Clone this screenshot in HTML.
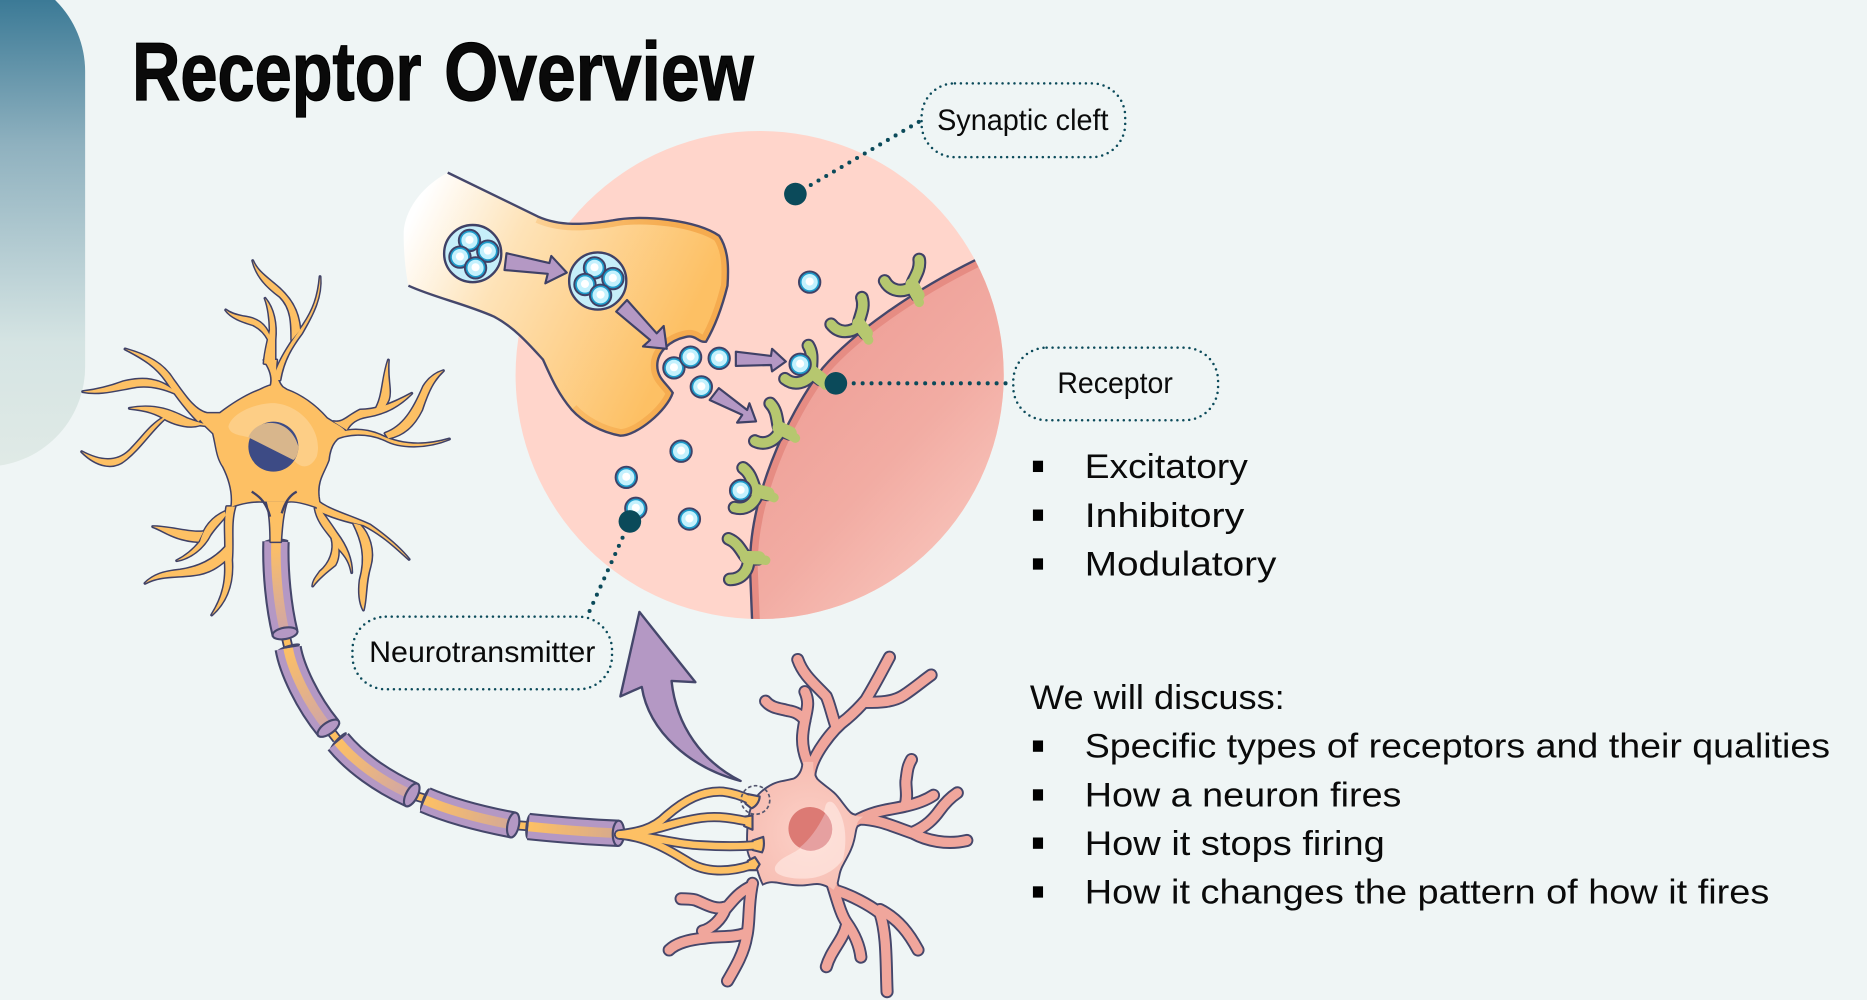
<!DOCTYPE html>
<html><head><meta charset="utf-8"><title>Receptor Overview</title>
<style>html,body{margin:0;padding:0;background:#eff5f5;overflow:hidden}svg{display:block}
text{font-family:"Liberation Sans",sans-serif;fill:#0a0a0a}</style></head>
<body>
<svg xmlns="http://www.w3.org/2000/svg" width="1867" height="1000" viewBox="0 0 1568 840" preserveAspectRatio="none">
<defs>
<linearGradient id="pan" x1="0" y1="0" x2="0" y2="1"><stop offset="0" stop-color="#2b6f8e"/><stop offset=".35" stop-color="#8fb1bf"/><stop offset=".75" stop-color="#d5e4e3"/><stop offset="1" stop-color="#e0eae6"/></linearGradient>
<linearGradient id="term" gradientUnits="userSpaceOnUse" x1="350" y1="175" x2="570" y2="285"><stop offset="0" stop-color="#fff"/><stop offset=".35" stop-color="#fee3b8"/><stop offset="1" stop-color="#fdc064"/></linearGradient>
<linearGradient id="band" gradientUnits="userSpaceOnUse" x1="400" y1="0" x2="570" y2="0"><stop offset="0" stop-color="#f5ab4f" stop-opacity="0"/><stop offset="1" stop-color="#f5ab4f"/></linearGradient>
<linearGradient id="post" gradientUnits="userSpaceOnUse" x1="670" y1="340" x2="800" y2="460"><stop offset="0" stop-color="#efa29a"/><stop offset=".5" stop-color="#f2aca3"/><stop offset="1" stop-color="#f7c0b7"/></linearGradient>
<radialGradient id="pbody" gradientUnits="userSpaceOnUse" cx="680" cy="700" r="55"><stop offset="0" stop-color="#fcd0c7"/><stop offset="1" stop-color="#f7bfb4"/></radialGradient>
<linearGradient id="s1" gradientUnits="userSpaceOnUse" x1="232" y1="455" x2="239" y2="532"><stop offset="0" stop-color="#fdc064"/><stop offset="1" stop-color="#cfa5a8"/></linearGradient>
<linearGradient id="s2" gradientUnits="userSpaceOnUse" x1="242" y1="544" x2="276" y2="612"><stop offset="0" stop-color="#fdc064"/><stop offset="1" stop-color="#cfa5a8"/></linearGradient>
<linearGradient id="s3" gradientUnits="userSpaceOnUse" x1="284" y1="623" x2="346" y2="668"><stop offset="0" stop-color="#fdc064"/><stop offset="1" stop-color="#cfa5a8"/></linearGradient>
<linearGradient id="s4" gradientUnits="userSpaceOnUse" x1="357" y1="672" x2="431" y2="693"><stop offset="0" stop-color="#fdc064"/><stop offset="1" stop-color="#d3a898"/></linearGradient>
<linearGradient id="s5" gradientUnits="userSpaceOnUse" x1="444" y1="694" x2="519" y2="700"><stop offset="0" stop-color="#fdc064"/><stop offset="1" stop-color="#d6a98e"/></linearGradient>
<clipPath id="cc"><circle cx="638" cy="315" r="205"/></clipPath>
<clipPath id="pc"><path d="M820,218 C765,245 716,280 691,309 C660,350 628,420 630,480 L632,530 L860,530 L860,200Z"/></clipPath>
<clipPath id="tc"><path d="M376,145 L452,182 C470,190 490,189 515,185 C540,180 585,185 604,198 C612,210 612,225 611,240 C606,260 600,275 593,287 C586,288 585,281 576,283 C562,286 552,296 552,307 C552,318 560,322 565,330 C560,345 535,366 521,366 C505,363 490,355 480,344 C468,330 462,315 456,302 C445,290 432,275 415,266 C390,255 365,250 343,240 C340,225 339,210 339,195 C340,178 352,158 376,145Z"/></clipPath>
<g id="v"><circle r="9" fill="#1f9ccb" stroke="#3f4166" stroke-width="1.6"/><circle r="6.8" fill="#c4f1fd"/><circle cy="-.5" r="3.4" fill="#fff"/></g>
<g id="rc" fill="none" stroke-linecap="round">
<path d="M-2,-6 C-4,-10 -8,-12 -5,-18 C-2,-24 1,-29 0,-36 M-6,-13 C-14,-8 -24,-9 -29,-18" stroke="#3f4166" stroke-width="11.5"/>
<path d="M0,0 C-2,-6 -8,-11 -5,-18 C-2,-24 1,-29 0,-36 M-6,-13 C-14,-8 -24,-9 -29,-18" stroke="#b6c76f" stroke-width="8"/>
<path d="M-1,-6 L-6,-15" stroke="#b6c76f" stroke-width="11"/>
</g>
<g id="cl"><circle r="24" fill="#c6eef9" stroke="#3f4166" stroke-width="2"/>
<use href="#v" x="-2.7" y="-11"/><use href="#v" x="12.7" y="-2"/><use href="#v" x="-10.7" y="3"/><use href="#v" x="2.4" y="12"/></g>
<g id="parts">
<path d="M600,450 C640,430 650,430 680,450 C720,465 760,490 800,535 C830,555 850,560 860,580 C830,590 810,610 805,660 C790,700 770,720 775,770 L780,805 C740,790 700,780 680,785 L620,785 C580,780 540,790 515,800 C520,760 510,720 490,680 C470,650 470,620 460,580 C440,560 420,545 410,520 L480,520 C520,490 560,465 600,450Z"/>
<path d="M625,455 C640,430 640,400 612,360 L650,360 C645,400 650,430 680,455Z"/>
<path d="M640,420 C650,370 690,310 730,255 C760,210 775,170 780,110 C785,170 760,220 725,280 C695,320 670,360 660,420Z"/>
<path d="M695,300 L720,270 C715,210 690,170 640,130 C610,105 590,90 578,62 C590,110 620,140 660,170 C695,205 695,250 695,300Z"/>
<path d="M612,370 C615,330 625,300 630,270 C630,240 625,200 615,175 C640,205 650,250 645,300 C645,330 645,350 645,375Z"/>
<path d="M630,290 C615,250 590,235 550,230 C525,225 510,220 497,210 C515,235 550,245 580,255 C600,265 615,280 625,300Z"/>
<path d="M440,520 C400,510 370,460 340,420 C310,370 260,345 195,327 C250,355 290,380 320,425 C350,470 380,510 415,545Z"/>
<path d="M345,455 C300,415 250,410 190,425 C150,440 110,450 68,455 C120,465 170,450 230,440 C270,435 310,445 345,460Z"/>
<path d="M460,560 C430,550 405,545 380,535 C340,515 290,490 208,505 C260,510 290,520 320,540 C350,555 390,565 420,555Z"/>
<path d="M315,530 C270,555 250,590 215,625 C180,665 130,670 65,635 C110,680 160,690 195,660 C240,625 270,575 315,535Z"/>
<path d="M820,545 C850,550 860,530 900,510 C950,510 1000,490 1055,460 C1020,495 980,520 920,530 C890,535 870,550 860,570Z"/>
<path d="M945,510 C970,470 965,420 985,360 C980,420 995,450 985,480 C980,490 975,500 970,505Z"/>
<path d="M810,590 C840,570 900,560 960,585 C1020,615 1090,620 1168,597 C1100,625 1020,625 975,600 C920,575 860,580 820,600Z"/>
<path d="M975,580 C1030,560 1060,510 1090,440 C1105,415 1125,400 1150,392 C1120,420 1105,450 1085,510 C1060,560 1030,585 985,595Z"/>
<path d="M500,800 C490,850 500,900 495,960 C500,1020 490,1070 455,1125 C500,1085 520,1030 515,960 C520,900 510,850 525,800Z"/>
<path d="M495,815 C450,835 430,870 420,905 C400,930 375,950 350,962 C390,955 430,925 450,885 C470,855 490,840 497,825Z"/>
<path d="M430,875 C390,880 330,860 278,860 C310,870 340,900 415,905Z"/>
<path d="M497,920 C470,950 430,980 360,990 C310,995 280,1005 255,1030 C300,1005 350,1012 400,1005 C450,1000 480,975 497,960Z"/>
<path d="M770,780 C800,810 880,830 930,855 C980,890 1020,925 1047,958 C1010,925 970,885 910,855 C860,845 810,830 770,810Z"/>
<path d="M880,850 C905,900 920,950 900,1020 C895,1060 900,1090 910,1110 C920,1070 915,1030 930,980 C945,930 925,880 900,855Z"/>
<path d="M765,805 C775,860 820,890 835,925 C860,950 870,970 875,998 C875,960 860,920 830,880 C810,850 795,830 785,815Z"/>
<path d="M815,895 C825,930 810,970 780,995 C770,1010 760,1020 758,1038 C775,1015 800,995 825,975 C840,950 835,920 830,895Z"/>
<path d="M620,785 C630,820 632,860 632,905 L662,905 C665,860 668,820 680,785Z"/>
</g>
<g id="pd" fill="none" stroke-linecap="round" stroke-linejoin="round">
<path d="M680,652 C681,635 700,612 711,604 C718,598 722,594 727,588 C735,575 740,565 747,552"/>
<path d="M727,590 C738,590 750,590 759,584 C768,578 775,572 782,567"/>
<path d="M678,640 C672,625 674,615 676,605 C678,595 680,590 676,581"/>
<path d="M702,610 C698,598 697,592 694,585 C685,575 675,568 670,554"/>
<path d="M676,605 C672,600 668,598 662,597 C655,595 648,595 643,589"/>
<path d="M718,690 C735,680 750,680 761,677 C770,675 778,672 784,668"/>
<path d="M760,677 C763,668 760,660 761,655 C762,648 762,644 765.5,638"/>
<path d="M722,688 C738,688 752,695 767,700 C778,706 795,710 812,706"/>
<path d="M767,699 C778,694 784,688 789,681 C794,674 798,670 804,666"/>
<path d="M632,742 C628,760 630,775 627,787 C625,800 618,812 611,824"/>
<path d="M626,784 C615,788 603,786 592,788 C580,789 568,792 562,798"/>
<path d="M630,745 C620,750 615,757 609,764 C606,772 598,780 590,782"/>
<path d="M609,762 C600,765 590,758 584,756 C580,755 576,755 572,755"/>
<path d="M698,740 C703,755 706,768 711,775 C718,785 722,795 723,804"/>
<path d="M711,777 C708,790 698,798 694,812"/>
<path d="M702,748 C715,752 730,760 739,767 C745,785 744,810 745,833"/>
<path d="M739,764 C755,772 764,785 771,798"/>
</g>
<path id="pb" d="M674.6,640 C675,648 670,654 666,655 C658,657 654,657 649.4,659.3 C640,664 634,670 631,680 C628,690 628,705 628.4,714 C630,722 634,726 636.8,730.7 C638,735 640,740 641,742 C645,740 648,740 652,740.5 C660,742 666,743 672,743 C680,743 684,741 689,742 C694,743 697,745 700,747.5 C703,743 703,740 704,736 C705,730 707,727 708,725 C713,716 715,712 716.6,705.5 C718,700 718,696 719.4,694 C720,690 722,688 725,686 C720,686 716,685 713.8,683 C708,677 705,671 699.8,666.3 C695,662 690,659 686,655 C684,652 683,650 683,640Z"/>
<g id="bt" fill="none" stroke-linecap="round" stroke-linejoin="round">
<path d="M520,701 C535,699 548,697 560,685 C575,672 590,664 607,665 C615,666 622,668 630,672"/>
<path d="M520,701 C548,700 565,690 589,687 C605,685 618,688 628,690"/>
<path d="M520,701 C548,702 565,709 588,710 C605,711 622,711 635,710"/>
<path d="M520,701 C545,703 565,716 578,724 C592,733 612,733 630,727"/>
</g>
</defs>

<rect width="1568" height="840" fill="#eff5f5"/>
<rect x="-100" y="-24" width="171.5" height="416" rx="84" fill="url(#pan)"/>

<g font-size="69" font-weight="bold" stroke="#000" stroke-width="1">
<text x="111" y="84" textLength="243" lengthAdjust="spacingAndGlyphs">Receptor</text>
<text x="373" y="84" textLength="260" lengthAdjust="spacingAndGlyphs">Overview</text>
</g>

<!-- zoom circle -->
<circle cx="638" cy="315" r="205" fill="#ffd5cb"/>
<g clip-path="url(#cc)">
<g clip-path="url(#pc)">
<rect x="620" y="200" width="240" height="330" fill="url(#post)"/>
<path d="M820,218 C765,245 716,280 691,309 C660,350 628,420 630,480 L632,530" fill="none" stroke="#e68c83" stroke-width="13"/>
</g>
<path d="M820,218 C765,245 716,280 691,309 C660,350 628,420 630,480 L632,530" fill="none" stroke="#45476b" stroke-width="2"/>
</g>

<!-- axon terminal -->
<path d="M376,145 L452,182 C470,190 490,189 515,185 C540,180 585,185 604,198 C612,210 612,225 611,240 C606,260 600,275 593,287 C586,288 585,281 576,283 C562,286 552,296 552,307 C552,318 560,322 565,330 C560,345 535,366 521,366 C505,363 490,355 480,344 C468,330 462,315 456,302 C445,290 432,275 415,266 C390,255 365,250 343,240 C340,225 339,210 339,195 C340,178 352,158 376,145Z" fill="url(#term)"/>
<g clip-path="url(#tc)"><path d="M452,182 C470,190 490,189 515,185 C540,180 585,185 604,198 C612,210 612,225 611,240 C606,260 600,275 593,287 C586,288 585,281 576,283 C562,286 552,296 552,307 C552,318 560,322 565,330 C560,345 535,366 521,366 C505,363 490,355 480,344" fill="none" stroke="url(#band)" stroke-width="11"/></g>
<path d="M376,145 L452,182 C470,190 490,189 515,185 C540,180 585,185 604,198 C612,210 612,225 611,240 C606,260 600,275 593,287 C586,288 585,281 576,283 C562,286 552,296 552,307 C552,318 560,322 565,330 C560,345 535,366 521,366 C505,363 490,355 480,344 C468,330 462,315 456,302 C445,290 432,275 415,266 C390,255 365,250 343,240" fill="none" stroke="#45476b" stroke-width="2"/>

<use href="#cl" x="397" y="213"/><use href="#cl" x="502" y="236"/>

<g fill="#b498c4" stroke="#3f4166" stroke-width="1.8" stroke-linejoin="round">
<path d="M425.4,212.7 L461.4,221 L463,215 L476,229 L458,238 L460,230 L423.7,226.8Z"/>
<path d="M526.6,252 L551.5,280 L557.4,273.8 L560,293 L540,291 L546,285.6 L517.5,261.7Z"/>
<path d="M618,295.4 L647.5,299 L648.4,293 L660,303.7 L648.4,312 L647.5,306.6 L618,307.4Z"/>
<path d="M603.7,326 L627.5,344.4 L629.4,338.7 L635,354 L619,355 L623.4,348.5 L596,336Z"/>
</g>

<!-- receptors -->
<use href="#rc" transform="translate(772,254)"/>
<use href="#rc" transform="translate(729.5,285.6) rotate(-9)"/>
<use href="#rc" transform="translate(693,323.4) rotate(-23)"/>
<use href="#rc" transform="translate(668,368) rotate(-36)"/>
<use href="#rc" transform="translate(650,418) rotate(-46)"/>
<use href="#rc" transform="translate(643,470.6) rotate(-60)"/>

<!-- vesicles -->
<use href="#v" x="680" y="237"/><use href="#v" x="566" y="309"/><use href="#v" x="580" y="300"/><use href="#v" x="604" y="301"/><use href="#v" x="589" y="325"/><use href="#v" x="672" y="306"/><use href="#v" x="572" y="379"/><use href="#v" x="526" y="401"/><use href="#v" x="534" y="427"/><use href="#v" x="579" y="436"/><use href="#v" x="622" y="412"/>

<!-- callouts -->
<g fill="none" stroke="#0b4a5a" stroke-width="3.4" stroke-linecap="round" stroke-dasharray="0 7.5">
<path d="M668,163 L774,101"/><path d="M702,322 L851,322"/><path d="M529,438 L493,518"/>
</g>
<g fill="none" stroke="#0b4a5a" stroke-width="2.1" stroke-linecap="round" stroke-dasharray="0 5">
<rect x="774" y="70" width="171" height="62" rx="28"/>
<rect x="851" y="292" width="172" height="61" rx="28"/>
<rect x="296" y="518" width="218" height="61" rx="28"/>
</g>
<g fill="#0b4a5a"><circle cx="668" cy="163" r="9.5"/><circle cx="702" cy="322" r="9.5"/><circle cx="529" cy="438" r="9.5"/></g>
<g font-size="24.5">
<text x="787" y="109" textLength="144" lengthAdjust="spacingAndGlyphs">Synaptic cleft</text>
<text x="888" y="330" textLength="97" lengthAdjust="spacingAndGlyphs">Receptor</text>
<text x="310" y="556" textLength="190" lengthAdjust="spacingAndGlyphs">Neurotransmitter</text>
</g>

<!-- big arrow -->
<path d="M537,514 L584,573 L564,572 C568,610 590,640 622,656 C580,645 545,615 539,577 L521,585Z" fill="#b498c4" stroke="#45476b" stroke-width="2" stroke-linejoin="round"/>

<!-- axon -->
<g fill="none">
<path d="M239.4,532 L242,543 M275.8,611.7 L283,621 M345.8,667.7 L357,671 M431,693 L444,694" stroke="#3f4166" stroke-width="8.5"/>
<path d="M239.4,532 L242,543 M275.8,611.7 L283,621 M345.8,667.7 L357,671 M431,693 L444,694" stroke="#fdbf60" stroke-width="5.5"/>
</g>
<g fill="#45476b">
<ellipse cx="231.8" cy="455" rx="10.5" ry="2.5" transform="rotate(-3 231.8 455)"/>
<ellipse cx="242" cy="544.5" rx="10.5" ry="2.5" transform="rotate(-18 242 544.5)"/>
<ellipse cx="284" cy="623" rx="10.5" ry="2.5" transform="rotate(-48 284 623)"/>
<ellipse cx="357" cy="672" rx="10.5" ry="2.5" transform="rotate(-70 357 672)"/>
<ellipse cx="443.8" cy="694.3" rx="10.5" ry="2.5" transform="rotate(-84 443.8 694.3)"/>
</g>
<g fill="none">
<path d="M231.8,455 C231,480 234,510 239.4,532 M242,544.5 C245,562 258,590 275.8,611.7 M284,623 C298,640 320,656 345.8,667.7 M357,672 C380,682 410,689 431,693 M443.8,694.3 C470,697 495,699 519.4,700" stroke="#45476b" stroke-width="23"/>
<path d="M231.8,455 C231,480 234,510 239.4,532 M242,544.5 C245,562 258,590 275.8,611.7 M284,623 C298,640 320,656 345.8,667.7 M357,672 C380,682 410,689 431,693 M443.8,694.3 C470,697 495,699 519.4,700" stroke="#b498c4" stroke-width="19.5"/>
<path d="M231.8,455 C231,480 234,510 239.4,532" stroke="url(#s1)" stroke-width="8"/>
<path d="M242,544.5 C245,562 258,590 275.8,611.7" stroke="url(#s2)" stroke-width="8"/>
<path d="M284,623 C298,640 320,656 345.8,667.7" stroke="url(#s3)" stroke-width="8"/>
<path d="M357,672 C380,682 410,689 431,693" stroke="url(#s4)" stroke-width="8"/>
<path d="M443.8,694.3 C470,697 495,699 519.4,700" stroke="url(#s5)" stroke-width="8"/>
</g>
<g fill="#b498c4" stroke="#45476b" stroke-width="1.8">
<ellipse cx="239.4" cy="532" rx="10.6" ry="4.8" transform="rotate(-10 239.4 532)"/>
<ellipse cx="275.8" cy="611.7" rx="10.6" ry="4.8" transform="rotate(-35 275.8 611.7)"/>
<ellipse cx="345.8" cy="667.7" rx="10.6" ry="4.8" transform="rotate(-62 345.8 667.7)"/>
<ellipse cx="431" cy="693" rx="10.6" ry="4.8" transform="rotate(-78 431 693)"/>
<ellipse cx="519.4" cy="700" rx="10.6" ry="4.8" transform="rotate(-88 519.4 700)"/>
</g>

<!-- presynaptic neuron -->
<g transform="translate(50.4,201.6) scale(.28)" stroke-linejoin="round">
<use href="#parts" fill="#3f4166" stroke="#3f4166" stroke-width="9"/>
<use href="#parts" fill="#fdc064" stroke="none"/>
<path d="M505,560 C515,515 600,485 650,490 C730,500 790,580 770,650 C755,680 730,690 705,665 L565,592 C540,585 510,585 505,560Z" fill="#fff" opacity=".22"/>
<circle cx="640" cy="620" r="75" fill="#3d4b85"/>
<path d="M565,592 C590,530 690,530 715,620 C715,640 708,655 700,660Z" fill="#d8b68c"/>
<path d="M575,755 C600,770 620,790 630,830 M710,755 C690,765 675,785 665,820" fill="none" stroke="#3f4166" stroke-width="7"/>
</g>

<!-- postsynaptic neuron -->
<use href="#pd" stroke="#45476b" stroke-width="11"/>
<use href="#pb" fill="#45476b" stroke="#45476b" stroke-width="3.2"/>
<use href="#pd" stroke="#f0a69c" stroke-width="7.8"/>
<use href="#pb" fill="url(#pbody)"/>
<path d="M651,728 C655,720 665,718 672,712.5 C682,705 690,690 693,678 C694,672 699,672 702,677 C710,688 712,705 708,722 C702,730 694,735 685,737 C675,739 665,738 658,736 C652,734 650,732 651,728Z" fill="#ffe9e3" opacity=".65"/>
<circle cx="680.8" cy="696.5" r="18.2" fill="#e6a0a0"/>
<path d="M693,683 A18.2,18.2 0 1 0 671.5,712 Q684,702 693,683Z" fill="#dc7a74"/>

<!-- boutons -->
<use href="#bt" stroke="#45476b" stroke-width="8.5"/>
<g fill="#fdc064" stroke="#45476b" stroke-width="1.8" stroke-linejoin="round">
<path d="M628,667 L638,669 C638,674 634,678 631,679 L626,675Z"/>
<path d="M625,686 L632,685 L632,697 L625,694Z"/>
<path d="M632,706 L641,703 C642,708 642,712 640,716 L632,714Z"/>
<path d="M628,723 L634,720 L638,726 L635,731 L628,731Z"/>
</g>
<use href="#bt" stroke="#fdc064" stroke-width="5.5"/>
<circle cx="634.5" cy="672" r="12" fill="none" stroke="#55576f" stroke-width="1.4" stroke-dasharray="3 2"/>

<!-- text -->
<g font-size="28.5">
<text x="911" y="401.5" textLength="137" lengthAdjust="spacingAndGlyphs">Excitatory</text>
<text x="911" y="442.5" textLength="134" lengthAdjust="spacingAndGlyphs">Inhibitory</text>
<text x="911" y="483.5" textLength="161" lengthAdjust="spacingAndGlyphs">Modulatory</text>
<text x="865" y="595.5" textLength="214" lengthAdjust="spacingAndGlyphs">We will discuss:</text>
<text x="911" y="636.5" textLength="626" lengthAdjust="spacingAndGlyphs">Specific types of receptors and their qualities</text>
<text x="911" y="677.5" textLength="266" lengthAdjust="spacingAndGlyphs">How a neuron fires</text>
<text x="911" y="718" textLength="252" lengthAdjust="spacingAndGlyphs">How it stops firing</text>
<text x="911" y="759" textLength="575" lengthAdjust="spacingAndGlyphs">How it changes the pattern of how it fires</text>
</g>
<g fill="#000">
<rect x="867.5" y="387" width="8.5" height="9.5"/><rect x="867.5" y="428" width="8.5" height="9.5"/><rect x="867.5" y="469" width="8.5" height="9.5"/>
<rect x="867.5" y="622" width="8.5" height="9.5"/><rect x="867.5" y="663" width="8.5" height="9.5"/><rect x="867.5" y="703.5" width="8.5" height="9.5"/><rect x="867.5" y="744.5" width="8.5" height="9.5"/>
</g>
</svg>
</body></html>
